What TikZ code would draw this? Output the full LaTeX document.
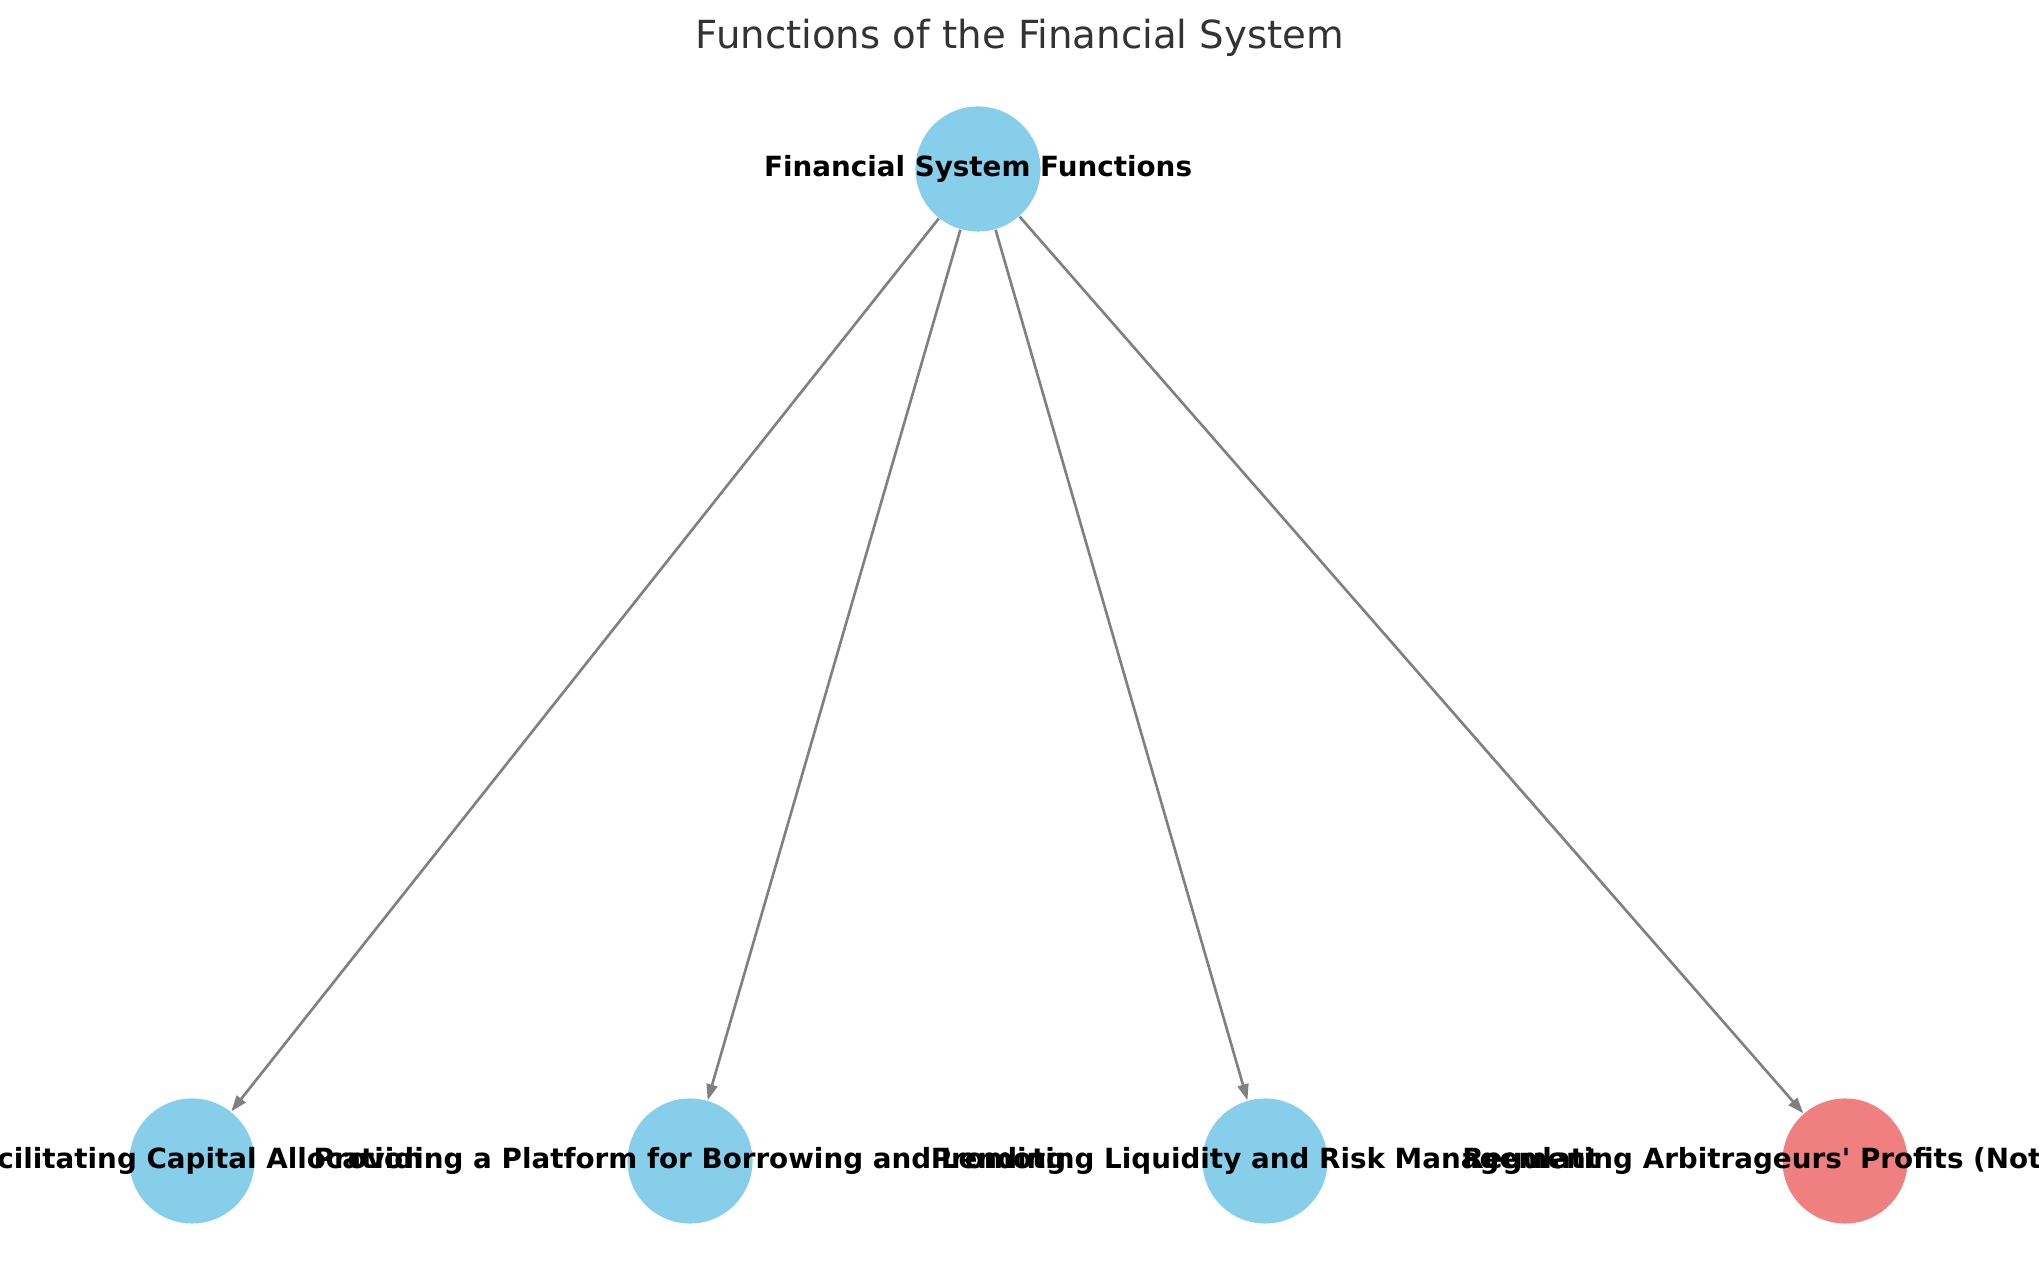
\documentclass[tikz,border=0pt]{standalone}
\usepackage{fontspec}
\setmainfont{DejaVu Sans}
\usetikzlibrary{arrows.meta}
\definecolor{SB}{HTML}{87CEEB}
\definecolor{LC}{HTML}{F08080}
\definecolor{EG}{HTML}{808080}
\definecolor{TT}{HTML}{333333}

\begin{document}
\begin{tikzpicture}[x=0.01cm, y=-0.01cm,
    fnode/.style={circle, fill=SB, minimum size=1.25cm, inner sep=0pt},
    fedge/.style={draw=EG, line width=0.75pt,
      -{Triangle[length=0.16cm, width=0.11cm]}},
    flabel/.style={font=\fontsize{7.9}{9}\selectfont\bfseries}]
  \clip (0,0) rectangle (2039,1286);
  \node[font=\fontsize{11}{13}\selectfont, text=TT] (title)
    at (1020,38) {Functions of the Financial System};
  % root and the four functions
  \node[fnode, label={[flabel]center:Financial System Functions}] (fs) at (978,169) {};
  \node[fnode, label={[flabel]center:Facilitating Capital Allocation}] (cap) at (192,1161) {};
  \node[fnode, label={[flabel]center:Providing a Platform for Borrowing and Lending}] (plat) at (690,1161) {};
  \node[fnode, label={[flabel]center:Promoting Liquidity and Risk Management}] (liq) at (1265,1161) {};
  \node[fnode, fill=LC, label={[flabel]center:Regulating Arbitrageurs\textquotesingle\ Profits (Not a Function)}] (arb) at (1845,1161) {};
  \foreach \t in {cap,plat,liq,arb}
    \draw[fedge] (fs) -- (\t);
\end{tikzpicture}
\end{document}
